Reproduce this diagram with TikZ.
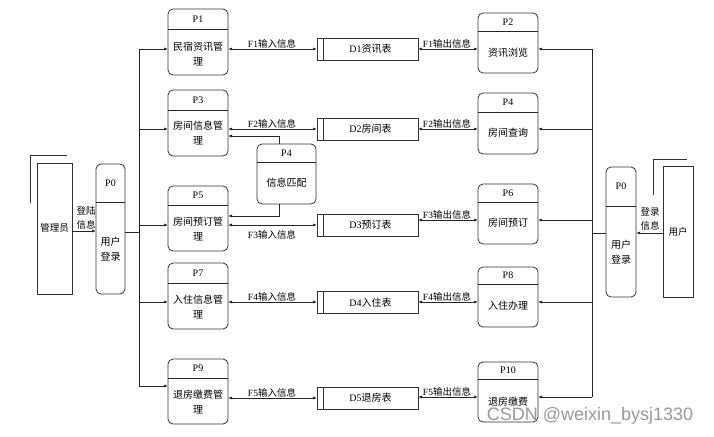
\documentclass[tikz,border=0pt]{standalone}
\usepackage{fontspec}
\setmainfont{Liberation Serif}
\newfontfamily\cjk{Noto Sans CJK SC}
\newfontfamily\wmfont{Liberation Sans}
\usetikzlibrary{arrows.meta}
\begin{document}
\begin{tikzpicture}[x=1pt,y=-1pt,
 proc/.style={draw=black!80, line width=0.8pt, rounded corners=5pt, inner sep=0pt, outer sep=0pt, minimum width=60pt},
 store/.style={draw=black!80, line width=0.8pt, inner sep=0pt, outer sep=0pt, minimum width=101pt, minimum height=22pt},
 ext/.style={draw=black!80, line width=0.8pt, inner sep=0pt, outer sep=0pt},
 hdr/.style={draw=black!85, line width=0.9pt},
 ttl/.style={font=\fontsize{10}{12}\selectfont, inner sep=0pt},
 body/.style={font=\fontsize{10}{15.5}\cjk, align=center, inner sep=0pt},
 dtxt/.style={font=\fontsize{10}{12}\selectfont, inner sep=0pt},
 lbl/.style={font=\fontsize{9.5}{11}\selectfont, inner sep=0.3pt},
 conn/.style={line width=0.7pt, draw=black!85},
 arr/.style={conn, -{Latex[length=4pt,width=3pt]}},
 biarr/.style={conn, {Latex[length=4pt,width=3pt]}-{Latex[length=4pt,width=3pt]}},
]
\path[use as bounding box, fill=white] (0,0) rectangle (714,436);

% external entities
\node[ext, minimum width=35pt, minimum height=131pt] (Adm) at (54.5,228.5) {};
\node[font=\fontsize{9.5}{11}\cjk, inner sep=0pt] (AdmT) at (54.5,228) {管理员};
\draw[ext] (30,203) -- (30,155) -- (67,155);
\node[ext, minimum width=30pt, minimum height=131pt] (User) at (678,231.5) {};
\node[font=\fontsize{9.5}{11}\cjk, inner sep=0pt] (UserT) at (678,232) {用户};
\draw[ext] (653,195) -- (653,159) -- (687,159);

% login processes
\node[proc, minimum width=29pt, minimum height=130pt] (LP0) at (110.5,229) {};
\draw[hdr] (LP0.west |- 0,202) -- (LP0.east |- 0,202);
\node[ttl] (LP0t) at (110.5,183) {P0};
\node[body] (LP0b) at (110.5,249) {用户\\登录};
\node[proc, minimum width=30pt, minimum height=130pt] (RP0) at (621,232) {};
\draw[hdr] (RP0.west |- 0,206) -- (RP0.east |- 0,206);
\node[ttl] (RP0t) at (621,186.5) {P0};
\node[body] (RP0b) at (621,252) {用户\\登录};

% left processes
\node[proc, minimum height=66pt] (P1) at (198,42) {};
\draw[hdr] (P1.west |- 0,29) -- (P1.east |- 0,29);
\node[ttl] (P1t) at (198,19) {P1};
\node[body] (P1b) at (198,54) {民宿资讯管\\理};

\node[proc, minimum height=66pt] (P3) at (198,123) {};
\draw[hdr] (P3.west |- 0,110) -- (P3.east |- 0,110);
\node[ttl] (P3t) at (198,100) {P3};
\node[body] (P3b) at (198,133) {房间信息管\\理};

\node[proc, minimum height=65pt] (P5) at (198,218.5) {};
\draw[hdr] (P5.west |- 0,205) -- (P5.east |- 0,205);
\node[ttl] (P5t) at (198,195.5) {P5};
\node[body] (P5b) at (198,229) {房间预订管\\理};

\node[proc, minimum height=66pt] (P7) at (198,296) {};
\draw[hdr] (P7.west |- 0,283) -- (P7.east |- 0,283);
\node[ttl] (P7t) at (198,273) {P7};
\node[body] (P7b) at (198,307) {入住信息管\\理};

\node[proc, minimum height=65pt] (P9) at (198,391.5) {};
\draw[hdr] (P9.west |- 0,378) -- (P9.east |- 0,378);
\node[ttl] (P9t) at (198,368.5) {P9};
\node[body] (P9b) at (198,402) {退房缴费管\\理};

% middle process
\node[proc, minimum width=59pt, minimum height=60pt] (P4m) at (286.5,174) {};
\draw[hdr] (P4m.west |- 0,162) -- (P4m.east |- 0,162);
\node[ttl] (P4mt) at (286.5,153) {P4};
\node[body] (P4mb) at (286.5,183) {信息匹配};

% right processes
\node[proc, minimum height=60pt] (P2) at (508,43) {};
\draw[hdr] (P2.west |- 0,31) -- (P2.east |- 0,31);
\node[ttl] (P2t) at (508,22) {P2};
\node[body] (P2b) at (508,53) {资讯浏览};

\node[proc, minimum height=61pt] (P4) at (508,123.5) {};
\draw[hdr] (P4.west |- 0,112) -- (P4.east |- 0,112);
\node[ttl] (P4t) at (508,102.5) {P4};
\node[body] (P4b) at (508,133) {房间查询};

\node[proc, minimum height=60pt] (P6) at (508,214) {};
\draw[hdr] (P6.west |- 0,202) -- (P6.east |- 0,202);
\node[ttl] (P6t) at (508,193) {P6};
\node[body] (P6b) at (508,223) {房间预订};

\node[proc, minimum height=60pt] (P8) at (508,297) {};
\draw[hdr] (P8.west |- 0,284) -- (P8.east |- 0,284);
\node[ttl] (P8t) at (508,275.5) {P8};
\node[body] (P8b) at (508,305.5) {入住办理};

\node[proc, minimum height=60pt] (P10) at (508,392) {};
\draw[hdr] (P10.west |- 0,379) -- (P10.east |- 0,379);
\node[ttl] (P10t) at (508,370.5) {P10};
\node[body] (P10b) at (508,401.5) {退房缴费};

% data stores
\foreach \n/\y/\t in {D1/49/资讯表, D2/129/房间表, D3/225/预订表, D4/302.5/入住表, D5/398/退房表}{
  \node[store] (\n) at (367.5,\y) {};
  \draw[ext] ([xshift=6pt]\n.north west) -- ([xshift=6pt]\n.south west);
  \node[dtxt] (\n t) at (370.5,\y) {\n{\cjk \t}};
}

% junction coordinates
\coordinate (L0) at (139,232);
\coordinate (L1) at (139,49);
\coordinate (L2) at (139,129);
\coordinate (L3) at (139,225);
\coordinate (L4) at (139,302);
\coordinate (L5) at (139,386);
\coordinate (R0) at (592,233);
\coordinate (R1) at (592,49);
\coordinate (R2) at (592,129);
\coordinate (R3) at (592,220);
\coordinate (R4) at (592,302);
\coordinate (R5) at (592,397);

% left distribution
\draw[arr] (Adm.east |- 0,231) -- (LP0.west |- 0,231);
\node[font=\fontsize{9.5}{14}\cjk, align=center, inner sep=0pt] (AdmL) at (86,218) {登陆\\信息};
\draw[conn] (LP0.east |- L0) -- (L0);
\draw[conn] (L1) -- (L5);
\draw[arr] (L1) -- (L1 -| P1.west);
\draw[arr] (L2) -- (L2 -| P3.west);
\draw[arr] (L3) -- (L3 -| P5.west);
\draw[arr] (L4) -- (L4 -| P7.west);
\draw[arr] (L5) -- (L5 -| P9.west);

% right distribution
\draw[arr] (User.west |- R0) -- (RP0.east |- R0);
\node[font=\fontsize{9.5}{14}\cjk, align=center, inner sep=0pt] (UserL) at (650,219) {登录\\信息};
\draw[conn] (RP0.west |- R0) -- (R0);
\draw[conn] (R1) -- (R5);
\draw[arr] (R1) -- (R1 -| P2.east);
\draw[arr] (R2) -- (R2 -| P4.east);
\draw[arr] (R3) -- (R3 -| P6.east);
\draw[arr] (R4) -- (R4 -| P8.east);
\draw[arr] (R5) -- (R5 -| P10.east);

% input flows
\draw[biarr] (P1.east |- D1.west) -- (D1.west);
\node[lbl, anchor=south] (F1i) at (272,49) {F1{\cjk 输入信息}};
\draw[biarr] (P3.east |- D2.west) -- (D2.west);
\node[lbl, anchor=south] (F2i) at (272,129) {F2{\cjk 输入信息}};
\draw[biarr] (P5.east |- D3.west) -- (D3.west);
\node[lbl, anchor=north] (F3i) at (272,229.5) {F3{\cjk 输入信息}};
\draw[biarr] (P7.east |- 0,302) -- (D4.west |- 0,302);
\node[lbl, anchor=south] (F4i) at (272,302) {F4{\cjk 输入信息}};
\draw[biarr] (P9.east |- D5.west) -- (D5.west);
\node[lbl, anchor=south] (F5i) at (272,398) {F5{\cjk 输入信息}};

% match process flows
\draw[arr] ([xshift=-7.5pt]P4m.north) |- (P3.east |- 0,136);
\draw[arr] ([xshift=-7.5pt]P4m.south) |- (P5.east |- 0,216);

% output flows
\draw[biarr] (R1 -| D1.east) -- (R1 -| P2.west);
\node[lbl, anchor=south] (F1o) at (447,49) {F1{\cjk 输出信息}};
\draw[biarr] (R2 -| D2.east) -- (R2 -| P4.west);
\node[lbl, anchor=south] (F2o) at (447,129) {F2{\cjk 输出信息}};
\draw[biarr] (R3 -| D3.east) -- (R3 -| P6.west);
\node[lbl, anchor=south] (F3o) at (447,220) {F3{\cjk 输出信息}};
\draw[biarr] (R4 -| D4.east) -- (R4 -| P8.west);
\node[lbl, anchor=south] (F4o) at (447,302) {F4{\cjk 输出信息}};
\draw[biarr] (R5 -| D5.east) -- (R5 -| P10.west);
\node[lbl, anchor=south] (F5o) at (447,397) {F5{\cjk 输出信息}};

% watermark
\node[font=\fontsize{18}{18}\wmfont, text=black!40, inner sep=0pt] (wm) at (590,416) {CSDN @weixin\_bysj1330};
\end{tikzpicture}
\end{document}
